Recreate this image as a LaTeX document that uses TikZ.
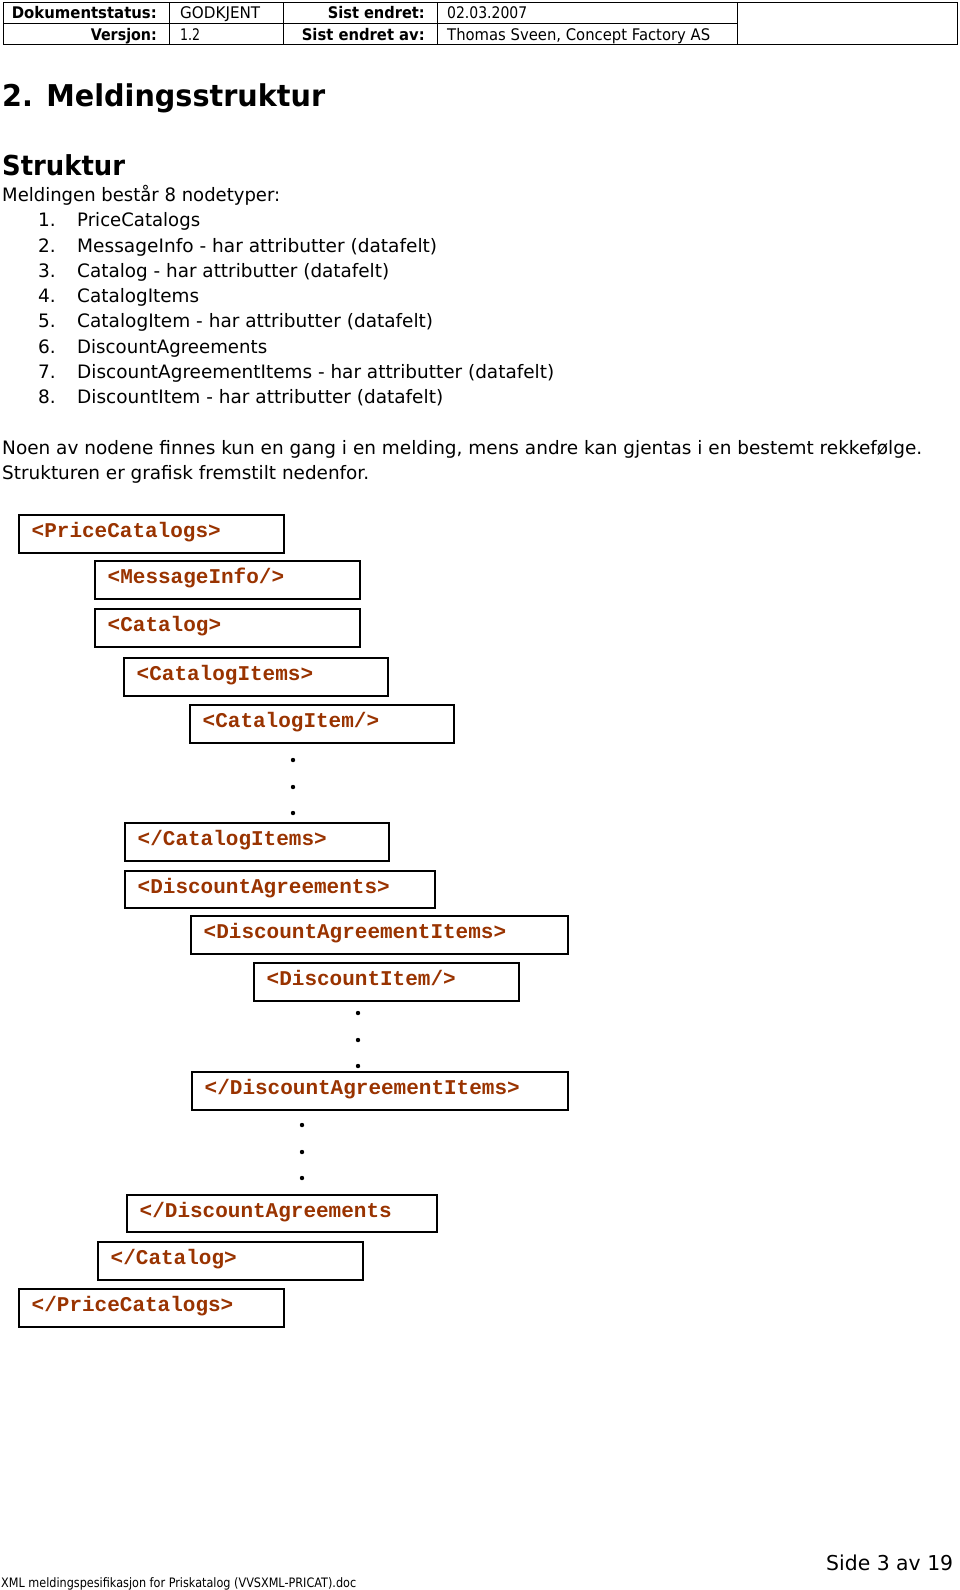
\documentclass[tikz,border=0pt]{standalone}
\usepackage{fontspec}
\usepackage{graphicx}
\setmainfont{DejaVu Sans}
\newfontfamily\xmlfont{Liberation Mono}
\usetikzlibrary{calc}
\definecolor{tagbrown}{RGB}{153,51,0}
\newcommand\fitw[2]{\resizebox{#1pt}{\height}{#2}}
\newcommand\fsz[1]{\fontsize{#1}{#1}\selectfont}
\newcommand\tagbox[6]{%
  \node[tagbox, minimum width={(#4-#2)*1pt}, minimum height={(#5-#3)*1pt}] (#1) at ({(#2+#4)/2},{(#3+#5)/2}) {};
  \node[tagtext] (#1t) at ($(#1.north west)+(13.5,23.5)$) {#6};}
\tikzset{
  tagbox/.style={draw=black, line width=2pt, inner sep=0pt, rectangle},
  tagtext/.style={anchor=base west, inner sep=0pt, text=tagbrown, font=\xmlfont\bfseries\fsz{21}},
  txt/.style={anchor=base west, inner sep=0pt},
  txtr/.style={anchor=base east, inner sep=0pt},
  hdr/.style={font=\fsz{16}},
  body/.style={font=\fsz{18.5}},
  dot/.style={circle, fill=black, inner sep=0pt, minimum size=4.4pt},
  tbl/.style={draw=black, line width=1pt}
}
\begin{document}
\begin{tikzpicture}[x=1pt, y=-1pt]
\useasboundingbox[fill=white] (0,0) rectangle (960,1590);

% header table
\draw[tbl] (3,2) rectangle (957,44);
\draw[tbl] (3,23) -- (737,23);
\draw[tbl] (169,2) -- (169,44);
\draw[tbl] (283,2) -- (283,44);
\draw[tbl] (437,2) -- (437,44);
\draw[tbl] (737,2) -- (737,44);

\node[txtr, hdr] (h1) at (157,19) {\fitw{145}{\bfseries Dokumentstatus:}};
\node[txt, hdr] (h2) at (180,19) {\fitw{80}{GODKJENT}};
\node[txtr, hdr] (h3) at (425,19) {\fitw{97}{\bfseries Sist endret:}};
\node[txt, hdr] (h4) at (447,19) {\fitw{80}{02.03.2007}};
\node[txtr, hdr] (h5) at (157,40) {\fitw{66}{\bfseries Versjon:}};
\node[txt, hdr] (h6) at (180,40) {\fitw{20}{1.2}};
\node[txtr, hdr] (h7) at (425,40) {\fitw{123}{\bfseries Sist endret av:}};
\node[txt, hdr] (h8) at (447,40) {\fitw{263}{Thomas Sveen, Concept Factory AS}};

% titles
\node[txt, font=\fsz{30}\bfseries] (title) at (2,106) {\fitw{323}{2. Meldingsstruktur}};
\node[txt, font=\fsz{27.5}\bfseries] (sub) at (2,175) {\fitw{123}{Struktur}};
\node[txt, body] (intro) at (2,201.4) {\fitw{278}{Meldingen består 8 nodetyper:}};

% list
\node[txt, body] (n1) at (38,226.7) {1.};
\node[txt, body] (l1) at (77,226.7) {\fitw{123}{PriceCatalogs}};
\node[txt, body] (n2) at (38,252.0) {2.};
\node[txt, body] (l2) at (77,252.0) {\fitw{360}{MessageInfo - har attributter (datafelt)}};
\node[txt, body] (n3) at (38,277.3) {3.};
\node[txt, body] (l3) at (77,277.3) {\fitw{312}{Catalog - har attributter (datafelt)}};
\node[txt, body] (n4) at (38,302.6) {4.};
\node[txt, body] (l4) at (77,302.6) {\fitw{122}{CatalogItems}};
\node[txt, body] (n5) at (38,327.9) {5.};
\node[txt, body] (l5) at (77,327.9) {\fitw{356}{CatalogItem - har attributter (datafelt)}};
\node[txt, body] (n6) at (38,353.2) {6.};
\node[txt, body] (l6) at (77,353.2) {\fitw{190}{DiscountAgreements}};
\node[txt, body] (n7) at (38,378.5) {7.};
\node[txt, body] (l7) at (77,378.5) {\fitw{477}{DiscountAgreementItems - har attributter (datafelt)}};
\node[txt, body] (n8) at (38,403.8) {8.};
\node[txt, body] (l8) at (77,403.8) {\fitw{366}{DiscountItem - har attributter (datafelt)}};

% paragraph
\node[txt, body] (p1) at (2,454.4) {\fitw{920}{Noen av nodene finnes kun en gang i en melding, mens andre kan gjentas i en bestemt rekkefølge.}};
\node[txt, body] (p2) at (2,479.7) {\fitw{367}{Strukturen er grafisk fremstilt nedenfor.}};

% structure boxes
\tagbox{b1}{19}{515}{284}{553}{<PriceCatalogs>}
\tagbox{b2}{95}{561}{360}{599}{<MessageInfo/>}
\tagbox{b3}{95}{609}{360}{647}{<Catalog>}
\tagbox{b4}{124}{658}{388}{696}{<CatalogItems>}
\tagbox{b5}{190}{705}{454}{743}{<CatalogItem/>}
\node[dot] (d1) at (293,760) {};
\node[dot] (d2) at (293,787) {};
\node[dot] (d3) at (293,813) {};
\tagbox{b6}{125}{823}{389}{861}{</CatalogItems>}
\tagbox{b7}{125}{871}{435}{908}{<DiscountAgreements>}
\tagbox{b8}{191}{916}{568}{954}{<DiscountAgreementItems>}
\tagbox{b9}{254}{963}{519}{1001}{<DiscountItem/>}
\node[dot] (d4) at (358,1013) {};
\node[dot] (d5) at (358,1040) {};
\node[dot] (d6) at (358,1066) {};
\tagbox{b10}{192}{1072}{568}{1110}{</DiscountAgreementItems>}
\node[dot] (d7) at (302,1125) {};
\node[dot] (d8) at (302,1152) {};
\node[dot] (d9) at (302,1178) {};
\tagbox{b11}{127}{1195}{437}{1232}{</DiscountAgreements}
\tagbox{b12}{98}{1242}{363}{1280}{</Catalog>}
\tagbox{b13}{19}{1289}{284}{1327}{</PriceCatalogs>}

% footer
\node[txt, font=\fsz{20.5}] (side) at (826,1570) {\fitw{127}{Side 3 av 19}};
\node[txt, font=\fsz{13}] (foot) at (1,1587) {\fitw{355}{XML meldingspesifikasjon for Priskatalog (VVSXML-PRICAT).doc}};
\end{tikzpicture}
\end{document}
